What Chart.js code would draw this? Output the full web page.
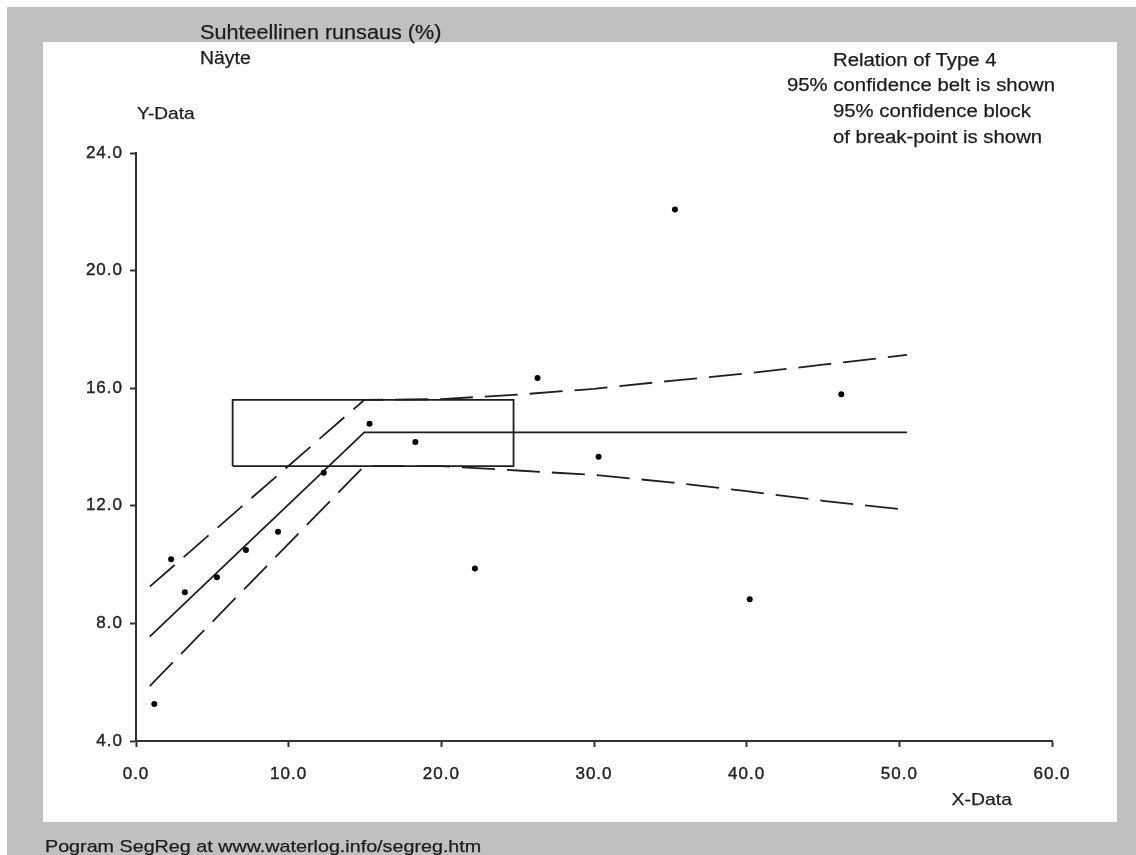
<!DOCTYPE html>
<html>
<head>
<meta charset="utf-8">
<script src="https://cdn.jsdelivr.net/npm/chart.js@4/dist/chart.umd.min.js"></script>
<style>
  html, body { margin: 0; padding: 0; width: 1136px; height: 855px; overflow: hidden; background: #ffffff; }
  #gray { position: absolute; left: 7px; top: 7px; width: 1129px; height: 848px; background: #c0c0c0; }
  #panel { position: absolute; left: 43px; top: 42px; width: 1074px; height: 780px; background: #ffffff; }
  #c { position: absolute; left: 0; top: 0; }
  .t { position: absolute; font-family: "Liberation Sans", Arial, sans-serif; color: #1c1c1c; line-height: 1; white-space: nowrap;
       transform-origin: 0 0; -webkit-text-stroke: 0.25px #1c1c1c; }
  .r { transform-origin: 100% 0; }
</style>
</head>
<body>
<div id="gray"></div>
<div id="panel"></div>
<canvas id="c" width="1136" height="855"></canvas>
<div class="t" style="left:200px; top:22px; font-size:20px; transform:scaleX(1.08);">Suhteellinen runsaus (%)</div>
<div class="t" style="left:200px; top:49px; font-size:18px; transform:scaleX(1.08);">Näyte</div>
<div class="t" style="left:137px; top:105px; font-size:17px; transform:scaleX(1.12);">Y-Data</div>
<div class="t" style="left:833px; top:51px; font-size:18px; transform:scaleX(1.13);">Relation of Type 4</div>
<div class="t" style="left:787px; top:76px; font-size:18px; transform:scaleX(1.13);">95% confidence belt is shown</div>
<div class="t" style="left:833px; top:102px; font-size:18px; transform:scaleX(1.13);">95% confidence block</div>
<div class="t" style="left:833px; top:128px; font-size:18px; transform:scaleX(1.13);">of break-point is shown</div>
<div class="t r" style="right:124px; top:791px; font-size:17px; transform:scaleX(1.14);">X-Data</div>
<div class="t" style="left:45px; top:838px; font-size:17px; transform:scaleX(1.16);">Pogram SegReg at www.waterlog.info/segreg.htm</div>
<script>
// observed data points
const pointX = [1.2, 2.3, 3.2, 5.3, 7.2, 9.3, 12.3, 15.3, 18.3, 22.2, 26.3, 30.3, 35.3, 40.2, 46.2];
const pointY = [5.26, 10.18, 9.06, 9.57, 10.50, 11.12, 13.12, 14.79, 14.17, 9.87, 16.35, 13.67, 22.08, 8.82, 15.79];
// segmented regression line
const fitX = [0.9, 14.95, 50.5];
const fitY = [7.55, 14.5, 14.5];
// 95% confidence belt
const beltX = [0.9, 14.95, 20, 25, 30, 35, 40, 45, 50.5];
const upperY = [9.25, 15.6, 15.63, 15.78, 15.98, 16.25, 16.5, 16.8, 17.13];
const lowerY = [5.87, 13.35, 13.35, 13.2, 13.05, 12.8, 12.5, 12.17, 11.86];
// 95% confidence block of break-point
const blockX = [6.33, 6.33, 24.73, 24.73, 6.33];
const blockY = [13.35, 15.6, 15.6, 13.35, 13.35];
// axis ranges
const xRange = [0, 60, 10];
const yRange = [4, 24, 4];

const toXY = (xs, ys) => xs.map((x, i) => ({ x: x, y: ys[i] }));
const lineCol = '#1e1e1e';
const tickFont = { family: '"Liberation Sans", Arial, sans-serif', size: 17 };

const spacingPlugin = {
  id: 'spacing',
  beforeDraw(chart) { chart.ctx.letterSpacing = '1px'; }
};

new Chart(document.getElementById('c'), {
  type: 'scatter',
  data: {
    datasets: [
      { data: toXY(pointX, pointY), pointRadius: 3, pointBackgroundColor: '#000', pointBorderWidth: 0, showLine: false, order: 0 },
      { data: toXY(fitX, fitY), showLine: true, pointRadius: 0, borderColor: lineCol, borderWidth: 1.8, fill: false, order: 1 },
      { data: toXY(beltX, upperY), showLine: true, pointRadius: 0, borderColor: lineCol, borderWidth: 1.8, borderDash: [33, 12], fill: false, order: 1 },
      { data: toXY(beltX, lowerY), showLine: true, pointRadius: 0, borderColor: lineCol, borderWidth: 1.8, borderDash: [33, 12], fill: false, order: 1 },
      { data: toXY(blockX, blockY), showLine: true, pointRadius: 0, borderColor: lineCol, borderWidth: 1.8, fill: false, order: 1 }
    ]
  },
  plugins: [spacingPlugin],
  options: {
    responsive: false,
    animation: false,
    events: [],
    layout: { padding: { left: 0, top: 153, right: 84, bottom: 0 } },
    plugins: { legend: { display: false }, tooltip: { enabled: false }, title: { display: false } },
    scales: {
      x: {
        type: 'linear', min: xRange[0], max: xRange[1],
        ticks: { stepSize: xRange[2], callback: v => v.toFixed(1), font: tickFont, color: '#222', padding: 17, maxRotation: 0, autoSkip: false,
                 textStrokeColor: '#222', textStrokeWidth: 0.4 },
        grid: { drawOnChartArea: false, drawTicks: true, tickLength: 6, color: '#333', tickWidth: 2 },
        border: { display: true, color: '#333', width: 2 },
        afterFit: s => { s.height = 114; }
      },
      y: {
        type: 'linear', min: yRange[0], max: yRange[1],
        ticks: { stepSize: yRange[2], callback: v => v.toFixed(1), font: tickFont, color: '#222', padding: 7, autoSkip: false,
                 textStrokeColor: '#222', textStrokeWidth: 0.4 },
        grid: { drawOnChartArea: false, drawTicks: true, tickLength: 6, color: '#333', tickWidth: 2 },
        border: { display: true, color: '#333', width: 2 },
        afterFit: s => { s.width = 136; }
      }
    }
  }
});
</script>
</body>
</html>
